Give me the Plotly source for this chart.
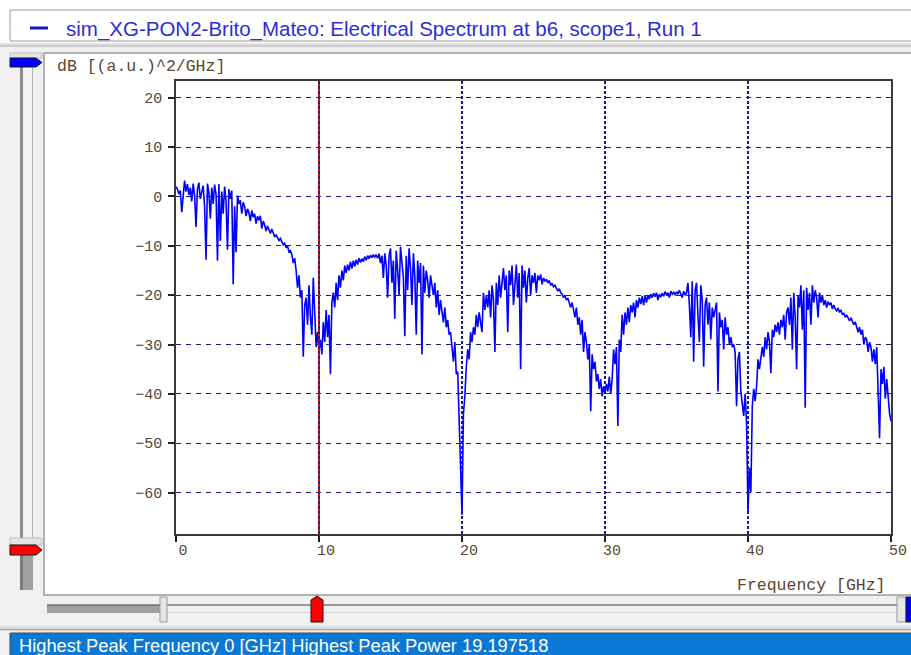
import plotly.graph_objects as go

# ---------------------------------------------------------------------------
# Data: electrical spectrum at b6 (scope1, run 1), 0.1 GHz resolution
# ---------------------------------------------------------------------------
freq_start_ghz = 0.0
freq_step_ghz = 0.1

power_db = [
    2.0, 1.5, 0.5, 1.2, -3.2, 0.8, 3.2, 1.0, 2.5, 0.3,                  # 0 GHz
    1.8, -1.0, 2.6, 0.2, -6.2, 1.5, 2.8, -0.5, 1.2, 2.2,                # 1
    -2.0, -12.8, 2.6, 0.8, -4.5, 1.8, -1.5, 2.4, 0.5, -13.0,            # 2
    2.5, -9.0, 1.0, -3.5, 2.0, -1.0, -10.8, 1.5, -0.5, 1.2,             # 3
    -17.8, -2.0, -11.3, 0.2, -1.5, -0.8, -3.5, -1.2, -2.0, -4.0,        # 4
    -2.5, -3.3, -5.0, -2.8, -4.2, -3.5, -5.5, -4.0, -4.8, -3.9,         # 5
    -6.5, -5.0, -5.8, -7.0, -6.0, -6.8, -7.5, -6.6, -7.3, -8.2,         # 6
    -7.8, -8.4, -8.9, -8.5, -9.3, -9.8, -9.5, -10.4, -10.0, -11.2,      # 7
    -11.0, -11.8, -13.5, -12.5, -15.0, -18.5, -16.0, -20.5, -19.0, -32.5,  # 8
    -22.0, -20.5, -26.0, -18.0, -24.5, -28.0, -16.5, -25.0, -30.5, -27.5,  # 9
    -31.0, -29.0, -32.0, -25.5, -29.5, -23.0, -28.5, -24.0, -36.0, -21.5,  # 10
    -19.5, -22.5, -17.5, -21.0, -16.0, -18.5, -15.0, -17.0, -14.0, -15.5,  # 11
    -13.8, -15.0, -13.2, -14.6, -13.0, -14.2, -12.8, -13.8, -12.5, -13.4,  # 12
    -12.6, -13.2, -12.2, -12.9, -12.0, -12.6, -11.9, -12.4, -11.8, -12.3,  # 13
    -11.8, -12.5, -11.6, -13.5, -12.0, -16.5, -11.5, -14.0, -20.5, -12.0,  # 14
    -10.5, -17.5, -13.0, -24.8, -11.0, -15.0, -20.0, -10.2, -13.5, -16.5,  # 15
    -28.3, -12.0, -19.0, -10.5, -14.5, -22.0, -11.5, -16.0, -28.0, -13.0,  # 16
    -17.5, -13.5, -32.0, -14.0, -19.5, -15.0, -17.0, -20.5, -16.0, -18.0,  # 17
    -20.0, -17.5, -22.5, -19.0, -24.0, -21.0, -23.5, -25.5, -22.5, -26.5,  # 18
    -25.0, -28.0, -27.5, -30.5, -33.5, -29.5, -36.0, -35.5, -45.5, -52.0,  # 19
    -64.5, -44.0, -40.5, -34.5, -31.0, -33.0, -27.5, -29.5, -26.5, -28.0,  # 20
    -24.0, -26.5, -23.5, -25.5, -27.5, -19.5, -23.0, -20.0, -22.5, -19.0,  # 21
    -24.5, -18.0, -21.0, -31.5, -17.5, -22.0, -16.0, -20.5, -18.0, -14.5,  # 22
    -19.0, -16.0, -27.5, -15.0, -18.0, -14.0, -22.0, -16.5, -13.8, -20.5,  # 23
    -15.5, -35.0, -14.0, -18.5, -15.0, -21.5, -16.5, -14.5, -20.0, -16.0,  # 24
    -17.5, -15.5, -19.5, -16.0, -17.0, -15.8, -17.8, -16.5, -17.2, -16.8,  # 25
    -17.5, -17.0, -18.0, -17.6, -18.3, -18.0, -18.8, -19.2, -18.7, -19.5,  # 26
    -19.8, -20.5, -20.0, -21.0, -20.6, -21.8, -22.5, -21.5, -23.5, -24.5,  # 27
    -22.5, -26.0, -24.5, -28.0, -25.0, -31.5, -27.5, -29.5, -33.0, -30.0,  # 28
    -43.5, -32.0, -35.0, -33.5, -37.5, -36.0, -39.0, -37.0, -40.5, -38.5,  # 29
    -40.0, -38.0, -39.5, -36.5, -40.0, -37.0, -31.0, -34.0, -30.5, -46.5,  # 30
    -29.0, -31.5, -24.0, -28.0, -23.5, -26.0, -22.5, -25.5, -22.0, -23.5,  # 31
    -21.5, -24.5, -21.0, -22.5, -20.5, -21.8, -20.2, -22.0, -20.0, -21.5,  # 32
    -20.0, -20.8, -19.8, -20.5, -19.6, -20.3, -19.5, -21.0, -19.8, -20.4,  # 33
    -19.6, -20.2, -19.3, -19.9, -19.5, -20.5, -19.2, -19.8, -19.4, -20.0,  # 34
    -19.3, -19.8, -19.0, -19.6, -20.5, -19.2, -20.0, -19.5, -17.5, -22.0,  # 35
    -28.5, -17.2, -33.5, -19.0, -17.5, -24.0, -29.5, -18.0, -21.0, -34.5,  # 36
    -22.0, -20.5, -26.0, -21.5, -29.0, -22.5, -24.5, -23.0, -21.5, -39.5,  # 37
    -23.5, -26.5, -25.0, -31.0, -24.5, -28.0, -26.5, -30.0, -28.5, -30.5,  # 38
    -30.0, -31.5, -42.5, -33.0, -31.5, -39.5, -42.0, -44.5, -40.0, -46.0,  # 39
    -64.0, -55.0, -60.0, -42.5, -39.0, -41.5, -38.5, -33.0, -35.0, -33.0,  # 40
    -30.5, -32.5, -28.5, -31.0, -27.5, -29.5, -35.8, -27.0, -28.5, -26.0,  # 41
    -27.5, -25.5, -28.0, -25.0, -26.5, -24.0, -29.0, -23.5, -22.5, -26.0,  # 42
    -20.5, -31.0, -19.5, -24.5, -35.0, -20.0, -22.5, -18.0, -27.0, -19.0,  # 43
    -42.8, -18.5, -23.0, -19.5, -26.0, -18.0, -21.5, -19.0, -20.5, -24.5,  # 44
    -19.5, -21.5, -20.0, -22.0, -21.0, -22.5, -21.3, -22.0, -21.5, -22.8,  # 45
    -22.0, -22.8, -23.2, -22.6, -23.5, -23.0, -24.0, -23.6, -24.5, -24.0,  # 46
    -24.8, -25.2, -24.6, -25.5, -26.0, -25.4, -26.8, -27.5, -26.5, -28.0,  # 47
    -27.0, -30.0, -28.5, -29.0, -31.5, -29.5, -30.5, -33.5, -31.0, -34.0,  # 48
    -30.5, -40.0, -49.0, -35.0, -38.0, -34.5, -41.0, -37.0, -40.5, -44.0,  # 49
    -45.5,                                                               # 50
]
freq_ghz = [round(freq_start_ghz + i * freq_step_ghz, 3) for i in range(len(power_db))]

x_tick_vals = [0, 10, 20, 30, 40, 50]
y_tick_vals = [20, 10, 0, -10, -20, -30, -40, -50, -60]
x_range = [0, 50]
y_range = [-68.4, 23.4]
marker_freq_ghz = 10

legend_label = "sim_XG-PON2-Brito_Mateo: Electrical Spectrum at b6, scope1, Run 1"
y_axis_label = "dB [(a.u.)^2/GHz]"
x_axis_label = "Frequency [GHz]"
status_label = "Highest Peak Frequency 0 [GHz] Highest Peak Power 19.197518"

# ---------------------------------------------------------------------------
# Window geometry (pixels) -> paper coordinates
# ---------------------------------------------------------------------------
W, H = 911, 655
PLOT_L, PLOT_R, PLOT_T, PLOT_B = 176, 891, 81, 534


def X(px):
    return px / W


def Y(py):
    return 1 - py / H


MONO = "Liberation Mono"
SANS = "Liberation Sans, Arial"
TICK_COLOR = "#5b4431"
GRID_COLOR = "#1a1a8c"

shapes = []


def rect(x0, y0, x1, y1, fill, line_color=None, line_width=0, layer="below"):
    shapes.append(dict(
        type="rect", xref="paper", yref="paper",
        x0=X(x0), x1=X(x1), y0=Y(y1), y1=Y(y0),
        fillcolor=fill,
        line=dict(color=line_color or fill, width=line_width),
        layer=layer,
    ))


def hline(x0, x1, y, color, width=1, layer="below"):
    shapes.append(dict(
        type="line", xref="paper", yref="paper",
        x0=X(x0), x1=X(x1), y0=Y(y), y1=Y(y),
        line=dict(color=color, width=width), layer=layer,
    ))


def poly(points, fill, line_color, line_width=1, layer="below"):
    path = "M " + " L ".join(f"{X(px):.5f},{Y(py):.5f}" for px, py in points) + " Z"
    shapes.append(dict(
        type="path", xref="paper", yref="paper", path=path,
        fillcolor=fill, line=dict(color=line_color, width=line_width),
        layer=layer,
    ))


# legend strip at the top
rect(0, 0, W, 43, "#ffffff")
rect(10, 10, W + 5, 41, "#ffffff", "#9a9a9a", 1)
hline(0, W, 44, "#d4d4d4", 1)
hline(0, W, 46, "#a6a6a6", 1)
shapes.append(dict(
    type="line", xref="paper", yref="paper",
    x0=X(30), x1=X(48), y0=Y(28), y1=Y(28),
    line=dict(color="#1414c8", width=3), layer="below",
))

# left (vertical) slider
rect(10, 53, 42, 58, "#e4e4e4", "#bdbdbd", 1)
rect(20, 67, 23, 540, "#8c8c8c")
rect(23, 67, 32, 540, "#f2f2f2")
rect(32, 67, 33, 540, "#b4b4b4")
poly([(10, 58), (36, 58), (42, 62.5), (36, 67), (10, 67)], "#0000ff", "#1a1a1a", 1)
rect(10, 538, 42, 545, "#e4e4e4", "#bdbdbd", 1)
rect(20, 555, 33, 590, "#a0a0a0")
rect(20, 555, 23, 590, "#7c7c7c")
poly([(10, 545), (36, 545), (42, 550), (36, 555), (10, 555)], "#ff0000", "#1a1a1a", 1)

# main white panel
rect(44, 53, W + 5, 595, "#ffffff", "#9a9a9a", 1.5)

# bottom (horizontal) slider
rect(47, 605, 160, 613, "#a0a0a0")
hline(47, 160, 605, "#6e6e6e", 1.5)
hline(167, 905, 605, "#7a7a7a", 1.5)
hline(167, 905, 612.5, "#d6d6d6", 1)
rect(160, 597, 167, 622, "#e6e6e6", "#9a9a9a", 1)
poly([(311, 622), (311, 600), (317, 596), (323, 600), (323, 622)], "#ff0000", "#1a1a1a", 1)
rect(897, 597, 906, 622, "#e6e6e6", "#9a9a9a", 1)
rect(906, 597, W + 2, 622, "#0000ff", "#1a1a1a", 1)

# separator and status bar
hline(0, W, 627, "#d0d0d0", 1)
hline(0, W, 629.5, "#a0a0a0", 1.5)
rect(10, 633, W + 2, H + 2, "#0a78d4", "#4a4a4a", 1)

# marker line at the selected frequency, with the dotted grid line above it
shapes.append(dict(
    type="line", xref="x", yref="y domain",
    x0=marker_freq_ghz, x1=marker_freq_ghz, y0=0, y1=1,
    line=dict(color="#ff0000", width=2), layer="above",
))
shapes.append(dict(
    type="line", xref="x", yref="y domain",
    x0=marker_freq_ghz, x1=marker_freq_ghz, y0=0, y1=1,
    line=dict(color=GRID_COLOR, width=1.6, dash="3px,2px"), layer="above",
))

annotations = [
    dict(text=legend_label, xref="paper", yref="paper", x=X(64), y=Y(29),
         xanchor="left", yanchor="middle", showarrow=False,
         font=dict(family=SANS, size=20.5, color="#2d2dd8")),
    dict(text=y_axis_label, xref="paper", yref="paper", x=X(55), y=Y(67),
         xanchor="left", yanchor="middle", showarrow=False,
         font=dict(family=MONO, size=16.5, color=TICK_COLOR)),
    dict(text=x_axis_label, xref="paper", yref="paper", x=X(888), y=Y(585),
         xanchor="right", yanchor="middle", showarrow=False,
         font=dict(family=MONO, size=16.5, color=TICK_COLOR)),
    dict(text=status_label, xref="paper", yref="paper", x=X(17), y=Y(645),
         xanchor="left", yanchor="middle", showarrow=False,
         font=dict(family=SANS, size=18.3, color="#ffffff")),
]

fig = go.Figure()
fig.add_trace(go.Scatter(
    x=freq_ghz, y=power_db, mode="lines",
    line=dict(color="#0000ff", width=1.6),
    hoverinfo="x+y", showlegend=False,
))

fig.update_layout(
    width=W, height=H, autosize=False,
    margin=dict(l=0, r=0, t=0, b=0, pad=0, autoexpand=False),
    paper_bgcolor="#f0f0f0",
    plot_bgcolor="#ffffff",
    shapes=shapes,
    annotations=annotations,
    showlegend=False,
    xaxis=dict(
        domain=[X(PLOT_L), X(PLOT_R)],
        range=x_range, tickvals=x_tick_vals,
        automargin=False,
        showline=True, mirror=True, linecolor="#3a3a3a", linewidth=1.5,
        ticks="outside", ticklen=6, tickwidth=1.5, tickcolor="#202020",
        ticklabelshift=7, ticklabelstandoff=-5,
        tickfont=dict(family=MONO, size=15, color=TICK_COLOR),
        showgrid=True, gridcolor=GRID_COLOR, gridwidth=1.6, griddash="3px,2px",
        zeroline=False, fixedrange=True,
    ),
    yaxis=dict(
        domain=[Y(PLOT_B), Y(PLOT_T)],
        range=y_range, tickvals=y_tick_vals,
        automargin=False,
        showline=True, mirror=True, linecolor="#3a3a3a", linewidth=1.5,
        ticks="outside", ticklen=6, tickwidth=1.5, tickcolor="#202020",
        ticklabelstandoff=3,
        tickfont=dict(family=MONO, size=15, color=TICK_COLOR),
        showgrid=True, gridcolor=GRID_COLOR, gridwidth=1.4, griddash="5px,5px",
        zeroline=False, fixedrange=True,
    ),
)

fig.write_html("out.html", config={"displayModeBar": False})
